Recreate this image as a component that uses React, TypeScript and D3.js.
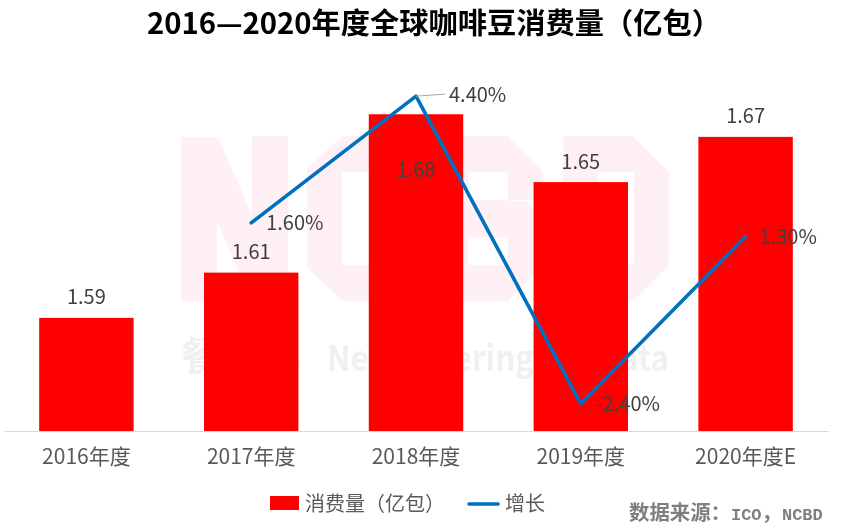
import React, { useRef, useEffect } from "react";
import * as d3 from "d3";

const categories = ["2016年度", "2017年度", "2018年度", "2019年度", "2020年度E"];
const consumption = [1.59, 1.61, 1.68, 1.65, 1.67];
const growthYears = ["2017年度", "2018年度", "2019年度", "2020年度E"];
const growth = [1.6, 4.4, -2.4, 1.3];

const width = 842;
const height = 532;
const CJK = "'Noto Sans CJK SC', 'Noto Sans', sans-serif";

// big NCBD letters of the watermark, sit behind the bars
const watermarkLetters = [
  "M181 137H218L252 215V136H288V301H252L217 222V301H181Z",
  "M343 136H415V172H342V265H415V301H343L307 268V168Z",
  "M432 136H508L543 172V200H508V172H468V200H508V201H525L543 218V265L508 301H432ZM468 237V265H508V237Z",
  "M563 136H633L669 172V265L633 301H563ZM598 172V265H634V172Z",
];

export default function App() {
  const ref = useRef<SVGSVGElement | null>(null);

  useEffect(() => {
    const margin = { top: 69, right: 14, bottom: 101, left: 4 };
    const h = height - margin.bottom;

    const svg = d3.select(ref.current);
    svg.selectAll("*").remove();
    svg.attr("width", width).attr("height", height).style("font-family", CJK);

    // Watermark
    const mark = svg.append("g");
    mark
      .selectAll("path")
      .data(watermarkLetters)
      .enter()
      .append("path")
      .attr("d", (d) => d)
      .attr("fill", "#fef0f4")
      .attr("fill-rule", "evenodd");
    mark
      .append("text")
      .attr("x", 181)
      .attr("y", 371)
      .attr("fill", "#f0f0f0")
      .style("font-size", "40px")
      .style("font-weight", 700)
      .text("餐宝典");
    mark
      .append("text")
      .attr("x", 327)
      .attr("y", 371)
      .attr("fill", "#f0f0f0")
      .attr("textLength", 342)
      .attr("lengthAdjust", "spacingAndGlyphs")
      .style("font-size", "35px")
      .style("font-weight", 700)
      .text("New Catering Big Data");

    // Scales
    const x = d3
      .scaleBand()
      .domain(categories)
      .range([margin.left, width - margin.right])
      .paddingInner(0.427)
      .paddingOuter(0.2135);
    const y = d3.scaleLinear().domain([1.54, 1.7]).range([h, margin.top]);
    const y2 = d3.scaleLinear().domain([-3, 5]).range([h, margin.top]);
    const cx = (c: string) => (x(c) as number) + x.bandwidth() / 2;

    // Bars
    svg
      .selectAll(".bar")
      .data(consumption)
      .enter()
      .append("rect")
      .attr("class", "bar")
      .attr("x", (_, i) => x(categories[i]) as number)
      .attr("y", (d) => y(d))
      .attr("width", x.bandwidth())
      .attr("height", (d) => h - y(d))
      .attr("fill", "#ff0000");

    // X axis
    const axis = svg
      .append("g")
      .attr("transform", `translate(0,${h})`)
      .call(d3.axisBottom(x).tickSize(0).tickPadding(18));
    axis.select(".domain").attr("stroke", "#d9d9d9").attr("stroke-width", 1);
    axis
      .selectAll("text")
      .attr("fill", "#595959")
      .style("font-family", CJK)
      .style("font-size", "21px");

    // Growth line
    const line = d3
      .line<number>()
      .x((_, i) => cx(growthYears[i]))
      .y((d) => y2(d));
    svg
      .append("path")
      .datum(growth)
      .attr("fill", "none")
      .attr("stroke", "#0070c0")
      .attr("stroke-width", 3.6)
      .attr("stroke-linecap", "round")
      .attr("stroke-linejoin", "round")
      .attr("d", line);

    // Leader line of the 4.40% label
    svg
      .append("line")
      .attr("x1", cx(growthYears[1]))
      .attr("y1", y2(growth[1]))
      .attr("x2", cx(growthYears[1]) + 29)
      .attr("y2", y2(growth[1]) - 2)
      .attr("stroke", "#a6a6a6")
      .attr("stroke-width", 1);

    // Bar labels, 1.68 was dragged down into its bar
    const barLabelShift = [0, 0, 77, 1, 0];
    svg
      .selectAll(".bar-label")
      .data(consumption)
      .enter()
      .append("text")
      .attr("class", "bar-label")
      .attr("x", (_, i) => cx(categories[i]))
      .attr("y", (d, i) => y(d) - 14 + barLabelShift[i])
      .attr("text-anchor", "middle")
      .attr("fill", "#404040")
      .style("font-size", "20px")
      .text((d) => d.toFixed(2));

    // Growth labels
    const growthLabelDx = [15, 33, 15, 14];
    const growthLabelDy = [7, 6, 7, 8];
    svg
      .selectAll(".growth-label")
      .data(growth)
      .enter()
      .append("text")
      .attr("class", "growth-label")
      .attr("x", (_, i) => cx(growthYears[i]) + growthLabelDx[i])
      .attr("y", (d, i) => y2(d) + growthLabelDy[i])
      .attr("fill", "#404040")
      .style("font-size", "20px")
      .text((d) => `${d.toFixed(2)}%`);

    // Title
    svg
      .append("text")
      .attr("x", 147)
      .attr("y", 34)
      .attr("textLength", 574)
      .attr("lengthAdjust", "spacingAndGlyphs")
      .attr("fill", "#000")
      .style("font-size", "29px")
      .style("font-weight", 700)
      .text("2016—2020年度全球咖啡豆消费量（亿包）");

    // Legend
    const legend = svg.append("g").style("font-size", "20px").attr("fill", "#595959");
    legend
      .append("rect")
      .attr("x", 270)
      .attr("y", 496)
      .attr("width", 29)
      .attr("height", 14)
      .attr("fill", "#ff0000");
    legend.append("text").attr("x", 305).attr("y", 511).text("消费量（亿包）");
    legend
      .append("line")
      .attr("x1", 469)
      .attr("x2", 498)
      .attr("y1", 504)
      .attr("y2", 504)
      .attr("stroke", "#0070c0")
      .attr("stroke-width", 3.6)
      .attr("stroke-linecap", "round");
    legend.append("text").attr("x", 505).attr("y", 511).text("增长");

    // Source note
    const source = svg
      .append("text")
      .attr("x", 629)
      .attr("y", 520)
      .attr("fill", "#7f7f7f")
      .style("font-size", "20.4px")
      .style("font-weight", 700);
    source.append("tspan").text("数据来源：");
    source
      .append("tspan")
      .style("font-family", "'Liberation Mono', monospace")
      .style("font-size", "17px")
      .text("ICO");
    source.append("tspan").text("，");
    source
      .append("tspan")
      .style("font-family", "'Liberation Mono', monospace")
      .style("font-size", "17px")
      .text("NCBD");
  }, []);

  return <svg ref={ref} style={{ position: "fixed", left: 0, top: 0 }} />;
}
